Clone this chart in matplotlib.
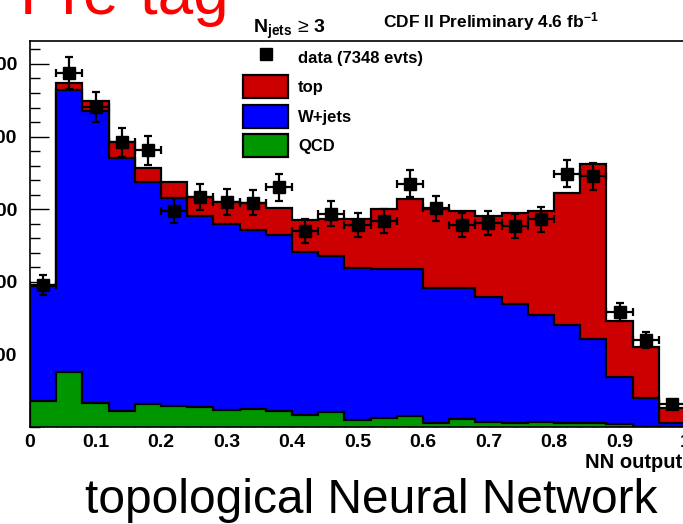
import numpy as np
import matplotlib
matplotlib.use('Agg')
import matplotlib.pyplot as plt
from matplotlib.lines import Line2D
from matplotlib.patches import Patch
from matplotlib.ticker import MultipleLocator

plt.rcParams['font.family'] = ['Liberation Sans', 'DejaVu Sans']
plt.rcParams['mathtext.fontset'] = 'custom'
plt.rcParams['mathtext.rm'] = 'Liberation Sans'
plt.rcParams['mathtext.bf'] = 'Liberation Sans:bold'
plt.rcParams['mathtext.it'] = 'Liberation Sans:italic'

# NN output binning: 25 bins from 0 to 1
nn_edges = np.linspace(0, 1, 26)

# background templates (events per bin)
qcd = np.array([36, 76, 33, 22, 31, 29, 27, 23, 25, 22, 16, 20, 10, 13, 15,
                6, 11, 7, 5, 7, 5, 5, 3.5, 0.5, 0.3])
wjets = np.array([158, 388, 402, 348, 307, 286, 263, 256, 246, 242, 225, 215,
                  209, 205, 202, 186, 181, 172, 165, 147, 135, 116, 65.5, 39, 4.7])
top = np.array([2, 10, 14, 23, 18, 23, 27, 31, 37, 37, 44, 52, 67, 82, 97,
                108, 106, 111, 125, 144, 182, 241, 77, 71, 21.6])

# observed events
data = np.array([196, 487, 441, 392, 381, 298, 317, 310, 309, 330, 270, 294,
                 278, 284, 335, 301, 278, 281, 277, 286, 349, 345, 158, 120, 31])

c_top = '#cc0000'
c_wjets = '#0000ff'
c_qcd = '#009600'

fig = plt.figure(figsize=(6.83, 5.24), dpi=100)
ax = fig.add_axes([30 / 683, 97 / 524, 655 / 683, 386.3 / 524])

# stacked histogram, drawn from the full stack down to QCD
stack_w = qcd + wjets
stack_all = stack_w + top
ax.stairs(stack_all, nn_edges, fill=True, baseline=0, facecolor=c_top,
          edgecolor='black', linewidth=1.6)
ax.stairs(stack_w, nn_edges, fill=True, baseline=0, facecolor=c_wjets,
          edgecolor='black', linewidth=1.6)
ax.stairs(qcd, nn_edges, fill=True, baseline=0, facecolor=c_qcd,
          edgecolor='black', linewidth=1.6)

centers = 0.5 * (nn_edges[1:] + nn_edges[:-1])
half_w = 0.5 * np.diff(nn_edges)
ax.errorbar(centers, data, xerr=half_w, yerr=np.sqrt(data), fmt='s',
            color='black', ms=8, elinewidth=1.6, capsize=3, capthick=1.6,
            zorder=5)

ax.set_xlim(0, 1)
ax.set_ylim(0, 532)
ax.set_axisbelow(True)
ax.set_xticks(np.arange(0, 1.01, 0.1))
ax.set_xticklabels(['0', '0.1', '0.2', '0.3', '0.4', '0.5', '0.6', '0.7',
                    '0.8', '0.9', '1'])
ax.set_yticks([100, 200, 300, 400, 500])
ax.xaxis.set_minor_locator(MultipleLocator(0.02))
ax.yaxis.set_minor_locator(MultipleLocator(20))
ax.tick_params(which='major', direction='in', length=14, width=1,
               labelsize=14)
ax.tick_params(axis='x', pad=5)
ax.tick_params(axis='y', pad=9)
ax.tick_params(which='minor', direction='in', length=7, width=1)
for lab in ax.get_xticklabels() + ax.get_yticklabels():
    lab.set_fontweight('bold')
for sp in ax.spines.values():
    sp.set_linewidth(1.2)

handles = [
    Line2D([], [], marker='s', color='black', ls='none', ms=8),
    Patch(facecolor=c_top, edgecolor='black', linewidth=1.6),
    Patch(facecolor=c_wjets, edgecolor='black', linewidth=1.6),
    Patch(facecolor=c_qcd, edgecolor='black', linewidth=1.6),
]
labels = ['data (7348 evts)', 'top', 'W+jets', 'QCD']
ax.legend(handles, labels, loc='upper left',
          bbox_to_anchor=(243 / 683, 1 - 46 / 524),
          bbox_transform=fig.transFigure, frameon=False, borderpad=0,
          borderaxespad=0, handlelength=2.7, handleheight=1.75,
          labelspacing=0.38, handletextpad=0.6,
          prop={'family': 'Liberation Sans', 'weight': 'bold', 'size': 12})

fig.text(290 / 683, 1 - 33 / 524, r'$\mathbf{N_{jets}}\,\geq\,\mathbf{3}$',
         fontsize=14, ha='center', va='baseline')
fig.text(491 / 683, 1 - 27 / 524, r'CDF II Preliminary 4.6 fb$^{\mathbf{-1}}$',
         fontsize=12.5, fontweight='bold', ha='center', va='baseline')
fig.text(682 / 683, 1 - 463 / 524, 'NN output', fontsize=14.5,
         fontweight='bold', ha='right', va='center')

fig.text(20 / 683, 1 - 14 / 524, 'Pre-tag', color='#ff0000', fontsize=46,
         ha='left', va='baseline')
fig.text(371 / 683, 1 - 513 / 524, 'topological Neural Network',
         fontsize=34.5, ha='center', va='baseline')

fig.savefig('out.png', dpi=100)
